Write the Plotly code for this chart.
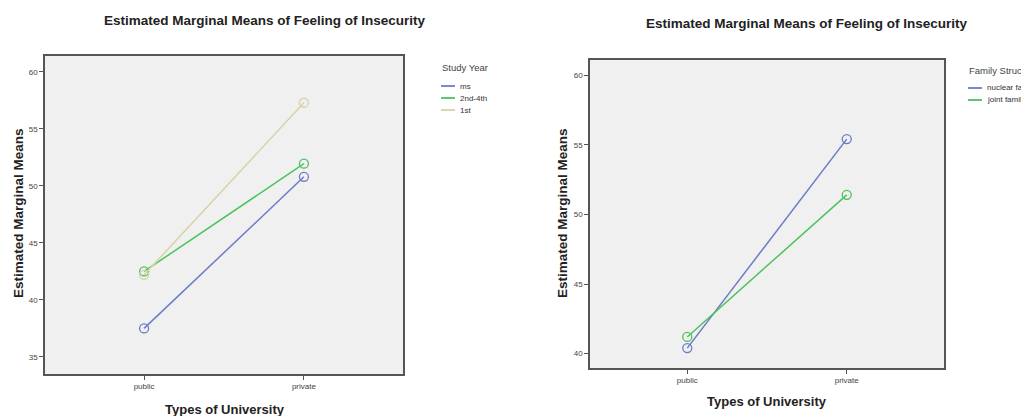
import plotly.graph_objects as go

# page body has an 8px margin, so the figure fills the rest of the 1029x416 window
OFF = 8
W, H = 1029 - OFF, 416 - OFF

# ---- data ----
univ_types = ["public", "private"]

study_years = ["ms", "2nd-4th", "1st"]
ms_means = [37.5, 50.8]
yr2to4_means = [42.5, 51.95]
first_means = [42.2, 57.3]
study_series = [ms_means, yr2to4_means, first_means]

family_types = ["nuclear family", "joint family"]
nuclear_means = [40.4, 55.4]
joint_means = [41.2, 51.4]
family_series = [nuclear_means, joint_means]

left_yticks = [35, 40, 45, 50, 55, 60]
right_yticks = [40, 45, 50, 55, 60]

title_text = "Estimated Marginal Means of Feeling of Insecurity"
left_legend_title = "Study Year"
right_legend_title = "Family Structure"

# ---- style ----
study_colors = ["#6b7bc8", "#4cc35a", "#d8d3a6"]
family_colors = ["#6b7bc8", "#4cc35a"]
FONT = "Liberation Sans, Arial, sans-serif"

fig = go.Figure()

for name, vals, col in zip(study_years, study_series, study_colors):
    fig.add_trace(go.Scatter(
        x=univ_types, y=vals, name=name, mode="lines+markers",
        line=dict(color=col, width=1.5),
        marker=dict(symbol="circle-open", size=9, color=col, line=dict(width=1.3)),
        xaxis="x", yaxis="y", showlegend=False,
    ))

for name, vals, col in zip(family_types, family_series, family_colors):
    fig.add_trace(go.Scatter(
        x=univ_types, y=vals, name=name, mode="lines+markers",
        line=dict(color=col, width=1.5),
        marker=dict(symbol="circle-open", size=9, color=col, line=dict(width=1.3)),
        xaxis="x2", yaxis="y2", showlegend=False,
    ))

def px(x):
    return (x - OFF) / W

def py(y):
    return 1 - (y - OFF) / H

axis_common = dict(
    showgrid=False, zeroline=False, showline=True, mirror=True,
    linecolor="#555555", linewidth=1.5,
    ticks="outside", ticklen=4, tickcolor="#555555",
    tickfont=dict(family=FONT, size=8, color="#444444"),
)

annotations = [
    dict(text="<b>" + title_text + "</b>", x=px(265), y=py(20)),
    dict(text="<b>" + title_text + "</b>", x=px(807), y=py(24)),
    dict(text="<b>Estimated Marginal Means</b>", x=px(18), y=py(213), textangle=-90),
    dict(text="<b>Estimated Marginal Means</b>", x=px(562), y=py(213), textangle=-90),
    dict(text="<b>Types of University</b>", x=px(225), y=py(409)),
    dict(text="<b>Types of University</b>", x=px(767), y=py(401)),
]
for a in annotations:
    a.update(xref="paper", yref="paper", showarrow=False, xanchor="center", yanchor="middle",
             font=dict(family=FONT, size=13.5, color="#222"))
annotations[4]["font"]["size"] = 13
annotations[5]["font"]["size"] = 13

shapes = []

def add_legend(title, names, colors, x0, y_title, y_first, step):
    annotations.append(dict(text=title, x=px(x0 - 1), y=py(y_title), xref="paper", yref="paper",
                            showarrow=False, xanchor="left", yanchor="middle",
                            font=dict(family=FONT, size=9.5, color="#444")))
    for i, (n, c) in enumerate(zip(names, colors)):
        yy = y_first + i * step
        shapes.append(dict(type="line", xref="paper", yref="paper",
                           x0=px(x0), x1=px(x0 + 14), y0=py(yy), y1=py(yy),
                           line=dict(color=c, width=1.8)))
        annotations.append(dict(text=n, x=px(x0 + 17), y=py(yy), xref="paper", yref="paper",
                                showarrow=False, xanchor="left", yanchor="middle",
                                font=dict(family=FONT, size=8, color="#333")))

add_legend(left_legend_title, study_years, study_colors, 441, 67, 86, 12)
add_legend(right_legend_title, family_types, family_colors, 968, 70, 88, 12)

fig.update_layout(
    width=W, height=H,
    margin=dict(l=0, r=0, t=0, b=0),
    paper_bgcolor="white",
    plot_bgcolor="#f0f0f0",
    showlegend=False,
    xaxis=dict(domain=[px(45), px(403)], type="category",
               range=[-0.62, 1.62], anchor="y", **axis_common),
    yaxis=dict(domain=[py(374), py(56)], range=[33.5, 61.4],
               tickvals=left_yticks, anchor="x", **axis_common),
    xaxis2=dict(domain=[px(590), px(944)], type="category",
                range=[-0.61, 1.61], anchor="y2", **axis_common),
    yaxis2=dict(domain=[py(368), py(60)], range=[38.97, 61.08],
                tickvals=right_yticks, anchor="x2", **axis_common),
    annotations=annotations,
    shapes=shapes,
)

fig.write_html("out.html")
